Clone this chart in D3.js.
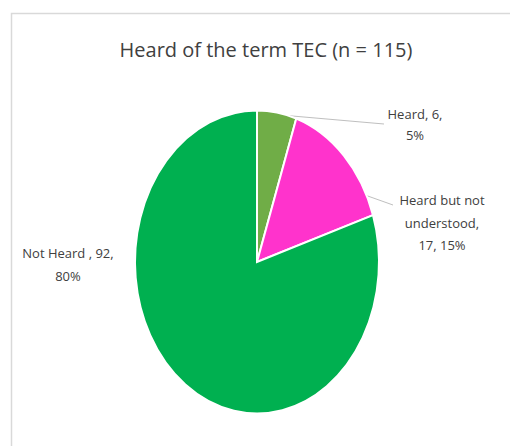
<!DOCTYPE html>
<html>
<head>
<meta charset="utf-8">
<script src="https://cdn.jsdelivr.net/npm/d3@7"></script>
<style>
  body { margin: 0; background: #fff; }
  text { font-family: "Liberation Sans Narrow", "Open Sans", sans-serif; }
</style>
</head>
<body>
<div id="canvas"></div>
<script>
"use strict"

/*** DATA ***/
let categories = ["Heard", "Heard but not understood", "Not Heard"]
let counts = [6, 17, 92]
let percents = [5, 15, 80]
let sliceColours = ["#70ad47", "#ff33cc", "#00b050"]

/*** CANVAS SETUP ***/
let svgWidth = 510
let svgHeight = 446

let svg = d3.select("#canvas")
    .append("svg")
    .attr("width", svgWidth)
    .attr("height", svgHeight)

/* chart area frame, runs off the right and bottom edges */
svg.append("path")
    .attr("d", "M11.5," + svgHeight + " V13.5 H" + svgWidth)
    .attr("fill", "none")
    .attr("stroke", "#d9d9d9")
    .attr("stroke-width", 1.5)

/* Title */
svg.append("text")
    .attr("x", 266)
    .attr("y", 57)
    .attr("text-anchor", "middle")
    .attr("font-size", "20px")
    .attr("fill", "#404040")
    .text("Heard of the term TEC (n = 115)")

/*** PIE ***/
let cx = 257, cy = 262          // centre of the pie
let rx = 122, ry = 151.5        // pie is stretched taller than wide

let pie = d3.pie().sort(null).value(function (d) { return d })
let slices = pie(counts)

let arc = d3.arc().innerRadius(0).outerRadius(rx)

/* point on the (stretched) rim at a given angle */
function rimPoint(angle) {
    return [cx + rx * Math.sin(angle), cy - ry * Math.cos(angle)]
}

/* label positions: centre x and first baseline, plus line attach point */
let labelSpots = [
    { x: 415, y: 119, step: 21, attach: 0.8, end: [384, 124] },
    { x: 442, y: 205, step: 22.5, attach: 0.85, end: [393, 205] },
    { x: 68, y: 258, step: 23, attach: null, end: null }
]

/* split label text into the wrapped lines */
function labelLines(i) {
    if (i === 0) return [categories[0] + ", " + counts[0] + ",", percents[0] + "%"]
    if (i === 1) return ["Heard but not", "understood,", counts[1] + ", " + percents[1] + "%"]
    return [categories[2] + " , " + counts[2] + ",", percents[2] + "%"]
}

/* leader lines drawn first so the slices sit over them */
slices.forEach(function (s, i) {
    let spot = labelSpots[i]
    if (spot.attach === null) return
    let a = s.startAngle + spot.attach * (s.endAngle - s.startAngle)
    let p = rimPoint(a)
    svg.append("line")
        .attr("x1", p[0]).attr("y1", p[1])
        .attr("x2", spot.end[0]).attr("y2", spot.end[1])
        .attr("stroke", "#bfbfbf")
        .attr("stroke-width", 1)
})

let pieGroup = svg.append("g")
    .attr("transform", "translate(" + cx + "," + cy + ") scale(1," + (ry / rx) + ")")

pieGroup.selectAll("path")
    .data(slices)
    .join("path")
    .attr("d", arc)
    .attr("fill", function (d, i) { return sliceColours[i] })
    .attr("stroke", "#ffffff")
    .attr("stroke-width", 2)
    .attr("vector-effect", "non-scaling-stroke")

/*** DATA LABELS ***/
slices.forEach(function (s, i) {
    let spot = labelSpots[i]
    let txt = svg.append("text")
        .attr("text-anchor", "middle")
        .attr("font-size", "13px")
        .attr("fill", "#404040")
    labelLines(i).forEach(function (line, j) {
        txt.append("tspan")
            .attr("x", spot.x)
            .attr("y", spot.y + j * spot.step)
            .text(line)
    })
})
</script>
</body>
</html>
